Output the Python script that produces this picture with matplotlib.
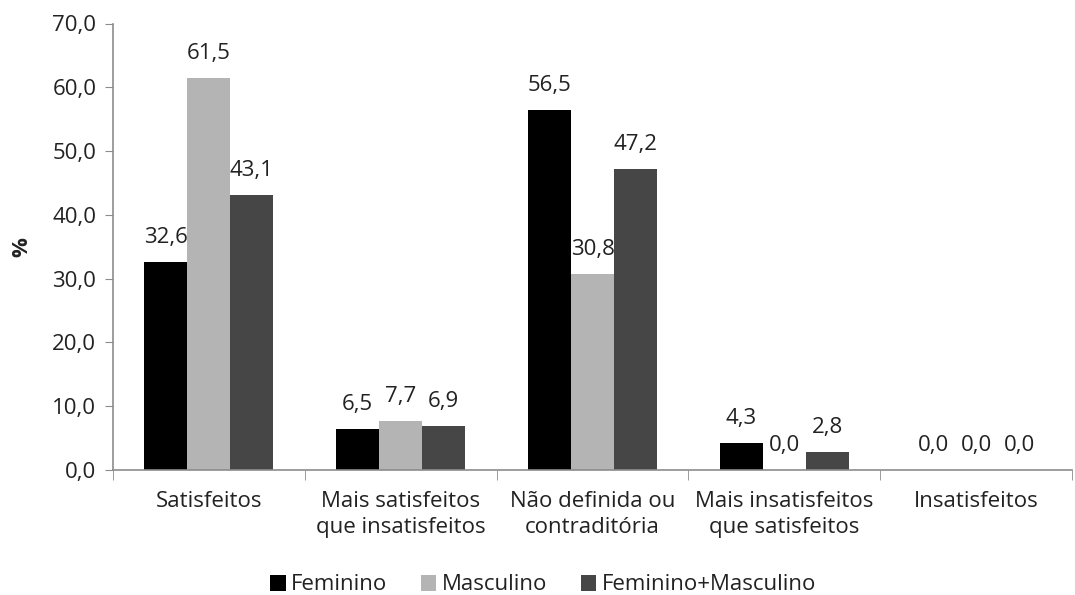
import numpy as np
import matplotlib.pyplot as plt
from matplotlib.ticker import FuncFormatter

categories = ["Satisfeitos", "Mais satisfeitos\nque insatisfeitos", "Não definida ou\ncontraditória",
              "Mais insatisfeitos\nque satisfeitos", "Insatisfeitos"]
series_names = ["Feminino", "Masculino", "Feminino+Masculino"]
feminino = [32.6, 6.5, 56.5, 4.3, 0.0]
masculino = [61.5, 7.7, 30.8, 0.0, 0.0]
ambos = [43.1, 6.9, 47.2, 2.8, 0.0]
colors = ["#000000", "#b4b4b4", "#464646"]

plt.rcParams['font.family'] = ['Open Sans', 'DejaVu Sans']
fs = 16

fig = plt.figure(figsize=(10.75, 5.95), dpi=100)
ax = fig.add_axes([113 / 1075, 1 - 470 / 595, (1072 - 113) / 1075, (470 - 23.5) / 595])

x = np.arange(len(categories))
width = 0.224
for i, (vals, name, c) in enumerate(zip([feminino, masculino, ambos], series_names, colors)):
    pos = x + (i - 1) * width
    ax.bar(pos, vals, width, color=c, label=name)
    for px, v in zip(pos, vals):
        ax.annotate(f"{v:.1f}".replace(".", ","), (px, v), xytext=(0, 10), textcoords="offset points",
                    ha="center", va="bottom", fontsize=fs, color="#222222")

ax.set_xlim(-0.5, len(categories) - 0.5)
ax.set_ylim(0, 70)
ax.set_yticks(np.arange(0, 71, 10))
ax.yaxis.set_major_formatter(FuncFormatter(lambda v, _: f"{v:.1f}".replace(".", ",")))
ax.set_xticks(x)
ax.set_xticklabels(categories, fontsize=fs, color="#222222", linespacing=1.3)
# category separators instead of centred ticks
ax.set_xticks(np.arange(-0.5, len(categories), 1), minor=True)
ax.tick_params(axis="x", which="major", length=0, pad=15)
ax.tick_params(axis="x", which="minor", length=7, color="#8c8c8c", direction="out")
ax.tick_params(axis="y", length=6, color="#8c8c8c", labelsize=fs, labelcolor="#222222", pad=6)

for side in ["top", "right"]:
    ax.spines[side].set_visible(False)
for side in ["left", "bottom"]:
    ax.spines[side].set_color("#8c8c8c")
    ax.spines[side].set_linewidth(1.2)

fig.text(22 / 1075, 1 - 247 / 595, "%", rotation=90, fontsize=fs, fontweight="bold",
         ha="center", va="center", color="#222222")

handles, labels = ax.get_legend_handles_labels()
fig.legend(handles, labels, loc="center", bbox_to_anchor=(543 / 1075, 1 - 585 / 595), ncol=3,
           frameon=False, fontsize=fs, handlelength=0.7, handleheight=0.7, handletextpad=0.25,
           columnspacing=1.5, labelcolor="#222222", borderpad=0)

fig.savefig("out.png", dpi=100)
